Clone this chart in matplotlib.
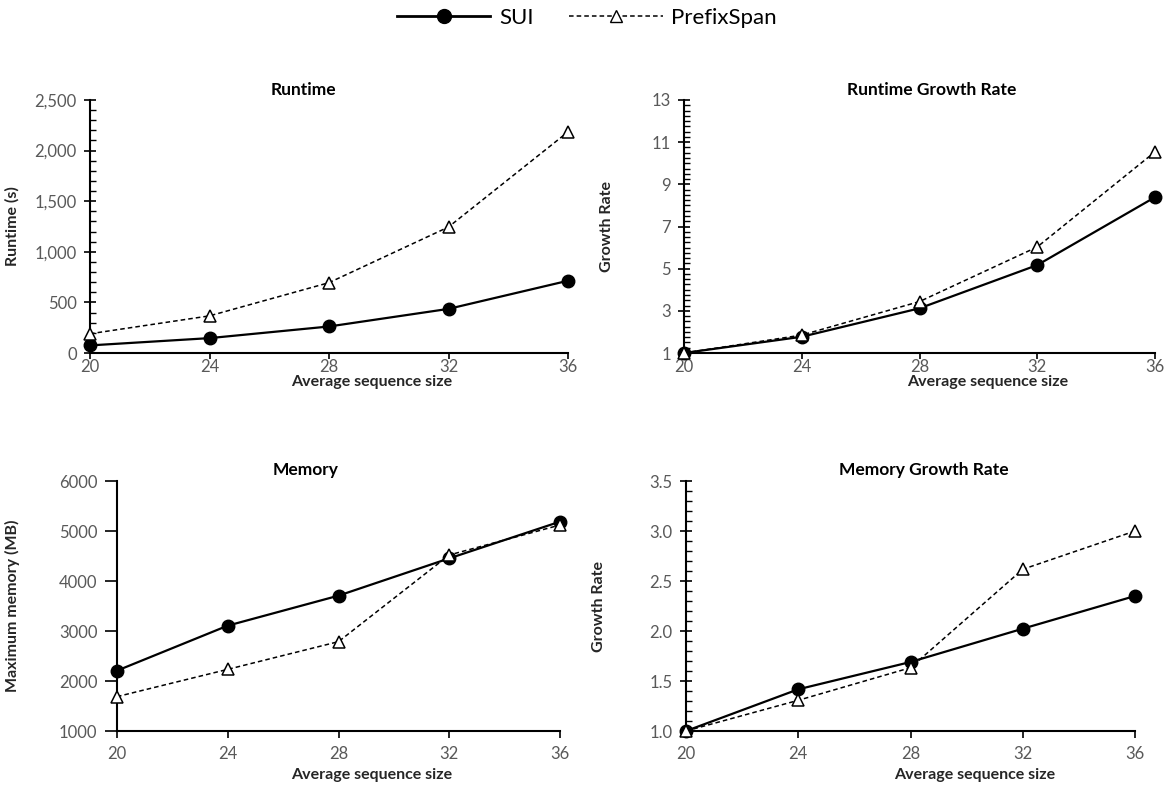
import matplotlib.pyplot as plt
from matplotlib.ticker import MultipleLocator, FuncFormatter
from matplotlib.lines import Line2D

plt.rcParams['font.family'] = ['Lato', 'DejaVu Sans']

W, H = 1174, 792

# data
seq_size = [20, 24, 28, 32, 36]
runtime_sui = [75, 147, 262, 436, 714]
runtime_ps = [190, 367, 695, 1245, 2185]
rt_growth_sui = [1.0, 1.77, 3.12, 5.17, 8.39]
rt_growth_ps = [1.0, 1.85, 3.44, 6.03, 10.54]
memory_sui = [2207, 3107, 3707, 4453, 5187]
memory_ps = [1687, 2233, 2787, 4520, 5120]
mem_growth_sui = [1.0, 1.417, 1.69, 2.023, 2.35]
mem_growth_ps = [1.0, 1.307, 1.633, 2.617, 3.0]

grey = '#595959'

fig = plt.figure(figsize=(W / 100, H / 100), dpi=100)


def make_axes(left, top, right, bottom):
    return fig.add_axes([left / W, 1 - bottom / H, (right - left) / W, (bottom - top) / H])


def style(ax, yticks, minor, fmt, ydir='inout', xpad=6, xlen=5):
    ax.set_xlim(20, 36)
    ax.set_ylim(yticks[0], yticks[-1])
    ax.set_xticks(seq_size)
    ax.set_yticks(yticks)
    if minor:
        ax.yaxis.set_minor_locator(MultipleLocator(minor))
        ax.tick_params(axis='y', which='minor', direction='in', length=4, width=1)
    ax.yaxis.set_major_formatter(FuncFormatter(fmt))
    for s in ['top', 'right']:
        ax.spines[s].set_visible(False)
    for s in ['left', 'bottom']:
        ax.spines[s].set_linewidth(1.5)
    ax.tick_params(axis='y', which='major', direction=ydir, length=9, width=1.2,
                   labelsize=12, labelcolor=grey, pad=5)
    ax.tick_params(axis='x', which='major', direction='out', length=xlen, width=1.2,
                   labelsize=12, labelcolor=grey, pad=xpad)


def draw(ax, sui, ps):
    ax.plot(seq_size, sui, color='black', lw=1.6, marker='o', ms=9, clip_on=False, zorder=3)
    ax.plot(seq_size, ps, color='black', lw=1.1, ls=(0, (3, 2)), marker='^', ms=8,
            mfc='white', mew=1.1, clip_on=False, zorder=4)


def labels(ax, title, tpos, ylabel, ypos, xpos):
    ax.text(tpos[0] / W, 1 - tpos[1] / H, title, transform=fig.transFigure,
            ha='center', va='center', fontsize=12.5, fontweight='bold')
    ax.set_ylabel(ylabel, fontsize=11.5, fontweight='bold', color='#262626')
    ax.yaxis.set_label_coords(ypos[0] / W, 1 - ypos[1] / H, transform=fig.transFigure)
    ax.set_xlabel('Average sequence size', fontsize=11.5, fontweight='bold', color='#262626')
    ax.xaxis.set_label_coords(xpos[0] / W, 1 - xpos[1] / H, transform=fig.transFigure)


# Runtime
ax1 = make_axes(90, 100, 568, 353)
draw(ax1, runtime_sui, runtime_ps)
style(ax1, [0, 500, 1000, 1500, 2000, 2500], 100, lambda v, p: f'{v:,.0f}', xpad=0, xlen=4)
labels(ax1, 'Runtime', (303, 90), 'Runtime (s)', (20, 226), (372, 375))

# Runtime growth rate
ax2 = make_axes(684, 100, 1155, 353)
draw(ax2, rt_growth_sui, rt_growth_ps)
style(ax2, [1, 3, 5, 7, 9, 11, 13], 0.25, lambda v, p: f'{v:.0f}', xpad=0, xlen=4)
labels(ax2, 'Runtime Growth Rate', (932, 90), 'Growth Rate', (614, 226), (988, 375))

# Memory
ax3 = make_axes(117, 481, 560, 731)
draw(ax3, memory_sui, memory_ps)
style(ax3, [1000, 2000, 3000, 4000, 5000, 6000], None, lambda v, p: f'{v:.0f}', ydir='out')
labels(ax3, 'Memory', (306, 470), 'Maximum memory (MB)', (20, 606), (372, 768))

# Memory growth rate
ax4 = make_axes(686, 481, 1135, 731)
draw(ax4, mem_growth_sui, mem_growth_ps)
style(ax4, [1.0, 1.5, 2.0, 2.5, 3.0, 3.5], 0.1, lambda v, p: f'{v:.1f}')
labels(ax4, 'Memory Growth Rate', (924, 470), 'Growth Rate', (606, 606), (975, 768))

handles = [
    Line2D([], [], color='black', lw=2, marker='o', ms=10),
    Line2D([], [], color='black', lw=1.1, ls=(0, (3, 2)), marker='^', ms=8, mfc='white'),
]
fig.legend(handles, ['SUI', 'PrefixSpan'], loc='center', bbox_to_anchor=(0.5, 1 - 18 / H),
           ncol=2, frameon=False, fontsize=16, handlelength=4.2, columnspacing=1.6,
           handletextpad=0.4)

fig.savefig('out.png', dpi=100)
